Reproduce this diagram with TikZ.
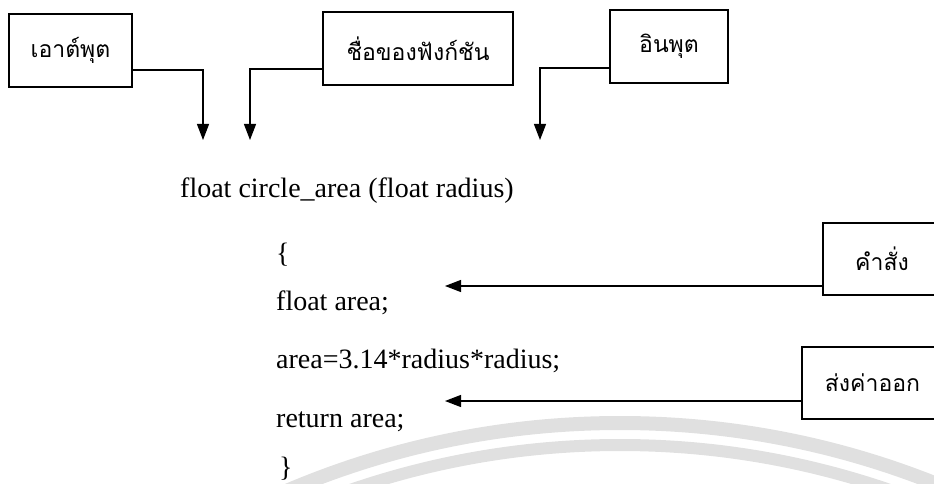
\documentclass[tikz,border=0pt]{standalone}
\usepackage{fontspec}
\setmainfont{Liberation Serif}
\newfontfamily\thaifont[Script=Thai]{Loma}
\usetikzlibrary{arrows.meta,calc}
\begin{document}
\begin{tikzpicture}[x=1pt,y=-1pt,
  lbl/.style={draw, line width=1.2pt, minimum height=73pt, inner sep=0pt,
    font=\thaifont\fontsize{23}{25}\selectfont},
  arr/.style={line width=1.2pt, -{Triangle[length=16pt,width=12pt]}},
  code/.style={anchor=base west, inner sep=0pt, font=\fontsize{28}{30}\selectfont},
  wm/.style={draw=black!12, line width=14pt}]
\useasboundingbox (0,0) rectangle (934,484);
% faint watermark arcs
\draw[wm] (620,1273) circle (850pt);
\draw[wm, line width=12pt] (620,1273) circle (828pt);
% label boxes
\node[lbl, minimum width=123pt] (out) at (70.5,50.5) {เอาต์พุต};
\node[lbl, minimum width=190pt] (fn) at (418,48.5) {ชื่อของฟังก์ชัน};
\node[lbl, minimum width=118pt] (inp) at (669,46.5) {อินพุต};
\node[lbl, minimum width=118pt, minimum height=72pt] (cmd) at (882,259) {คำสั่ง};
\node[lbl, minimum width=141pt, minimum height=72pt] (ret) at (872.5,383) {ส่งค่าออก};
% code
\node[code] (sig) at (180,197) {float circle\_area (float radius)};
\node[code] (lb) at (276,262) {\{};
\node[code] (l1) at (276,310) {float area;};
\node[code] (l2) at (276,368) {area=3.14*radius*radius;};
\node[code] (l3) at (276,427) {return area;};
\node[code] (rb) at (279,476) {\}};
% arrow end points
\coordinate (t1) at (203,140);
\coordinate (t2) at (250,140);
\coordinate (t3) at (540,140);
\coordinate (t4) at (445,286);
\coordinate (t5) at (445,401);
% connectors
\draw[arr] (out.east |- 0,70) -| (t1);
\draw[arr] (fn.west |- 0,69) -| (t2);
\draw[arr] (inp.west |- 0,68) -| (t3);
\draw[arr] (cmd.west |- t4) -- (t4);
\draw[arr] (ret.west |- t5) -- (t5);
\end{tikzpicture}
\end{document}
